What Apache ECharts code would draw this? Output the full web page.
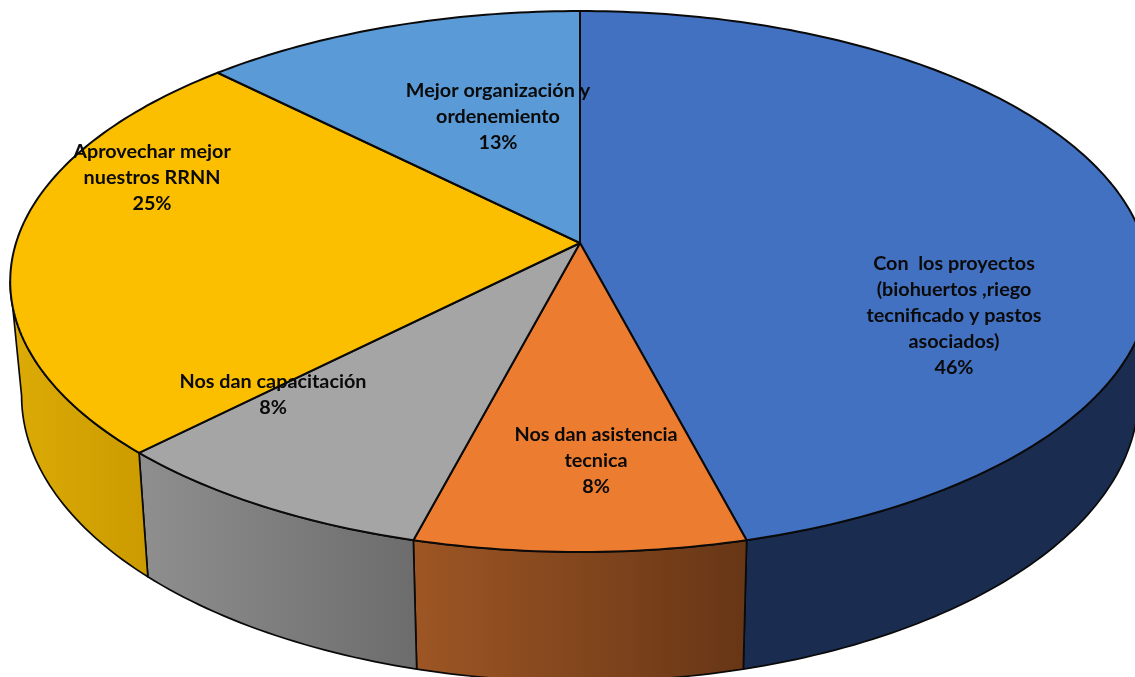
<!DOCTYPE html>
<html>
<head>
<meta charset="utf-8">
<style>html,body{margin:0;padding:0;background:#fff}#c{width:1135px;height:677px}</style>
<script src="https://cdn.jsdelivr.net/npm/echarts@6/dist/echarts.min.js"></script>
</head>
<body>
<div id="c"></div>
<script>
const categories = [
  "Con  los proyectos\n(biohuertos ,riego\ntecnificado y pastos\nasociados)",
  "Nos dan asistencia\ntecnica",
  "Nos dan capacitación",
  "Aprovechar mejor\nnuestros RRNN",
  "Mejor organización y\nordenemiento"
];
const shares = [45.9, 8.2, 8.3, 25.1, 12.5];
const percentLabels = ["46%", "8%", "8%", "25%", "13%"];

const topColors = ["#4371c2", "#ec7c30", "#a5a5a5", "#fcbf00", "#5a9ad6"];
const sideColorsLeft = ["#1a2c50", "#9e5624", "#8f8f8f", "#dcab06", "#000"];
const sideColorsRight = ["#1a2c50", "#673616", "#6c6c6c", "#cb9b00", "#000"];
const labelCenters = [[954, 316], [596, 461], [273, 395], [152, 178], [498, 117]];

// Perspective disc geometry
const hubX = 580, hubY = 243, radiusX = 564, radiusY = 265, persp = 0.1424;
const bottomScaleX = 0.98, bottomScaleY = 1.057, bottomShift = 112;
const LINE = 26;

function rim(deg, bottom) {
  const t = deg * Math.PI / 180;
  const w = 1 + persp * Math.cos(t);
  const dx = radiusX * Math.sin(t) / w;
  const dy = -radiusY * Math.cos(t) / w;
  return bottom
    ? [hubX + dx * bottomScaleX, hubY + dy * bottomScaleY + bottomShift]
    : [hubX + dx, hubY + dy];
}
function arc(a, b, bottom) {
  const pts = [];
  const n = Math.max(2, Math.ceil(Math.abs(b - a)));
  for (let i = 0; i <= n; i++) pts.push(rim(a + (b - a) * i / n, bottom));
  return pts;
}
const edgeAngle = Math.acos(persp) * 180 / Math.PI;
const visibleFrom = 90 + (90 - edgeAngle), visibleTo = 180 + edgeAngle;

const total = shares.reduce((a, b) => a + b, 0);
let running = 0;
const rows = shares.map((v, i) => {
  const row = [i, running / total * 360, (running + v) / total * 360];
  running += v;
  return row;
});
const stroke = { stroke: "#0a0a0a", lineWidth: 2, lineJoin: "round" };

function renderSide(params, api) {
  const i = api.value(0);
  const a = Math.max(api.value(1), visibleFrom), b = Math.min(api.value(2), visibleTo);
  if (b <= a) return null;
  const points = arc(a, b, false).concat(arc(b, a, true));
  return {
    type: "polygon", silent: true,
    shape: { points },
    style: Object.assign({
      fill: new echarts.graphic.LinearGradient(0, 0, 1, 0, [
        { offset: 0, color: sideColorsLeft[i] },
        { offset: 1, color: sideColorsRight[i] }
      ])
    }, stroke, { lineWidth: 1.7 })
  };
}
function renderTop(params, api) {
  const i = api.value(0);
  const points = [[hubX, hubY]].concat(arc(api.value(1), api.value(2), false));
  return {
    type: "polygon", silent: true,
    shape: { points },
    style: Object.assign({ fill: topColors[i] }, stroke)
  };
}
function renderLabel(params, api) {
  const i = api.value(0);
  return {
    type: "text", silent: true, z2: 10,
    x: labelCenters[i][0], y: labelCenters[i][1],
    style: {
      text: categories[i] + "\n" + percentLabels[i],
      align: "center", verticalAlign: "middle",
      font: "bold 19.8px Lato", lineHeight: LINE, fill: "#0a0a0a"
    }
  };
}
const chart = echarts.init(document.getElementById("c"), null, { renderer: "canvas" });
chart.setOption({
  animation: false,
  backgroundColor: "#ffffff",
  series: [
    { type: "custom", coordinateSystem: "none", clip: false, data: rows, renderItem: renderSide, z: 1 },
    { type: "custom", coordinateSystem: "none", clip: false, data: rows, renderItem: renderTop, z: 2 },
    { type: "custom", coordinateSystem: "none", clip: false, data: rows, renderItem: renderLabel, z: 3 }
  ]
});
</script>
</body>
</html>
